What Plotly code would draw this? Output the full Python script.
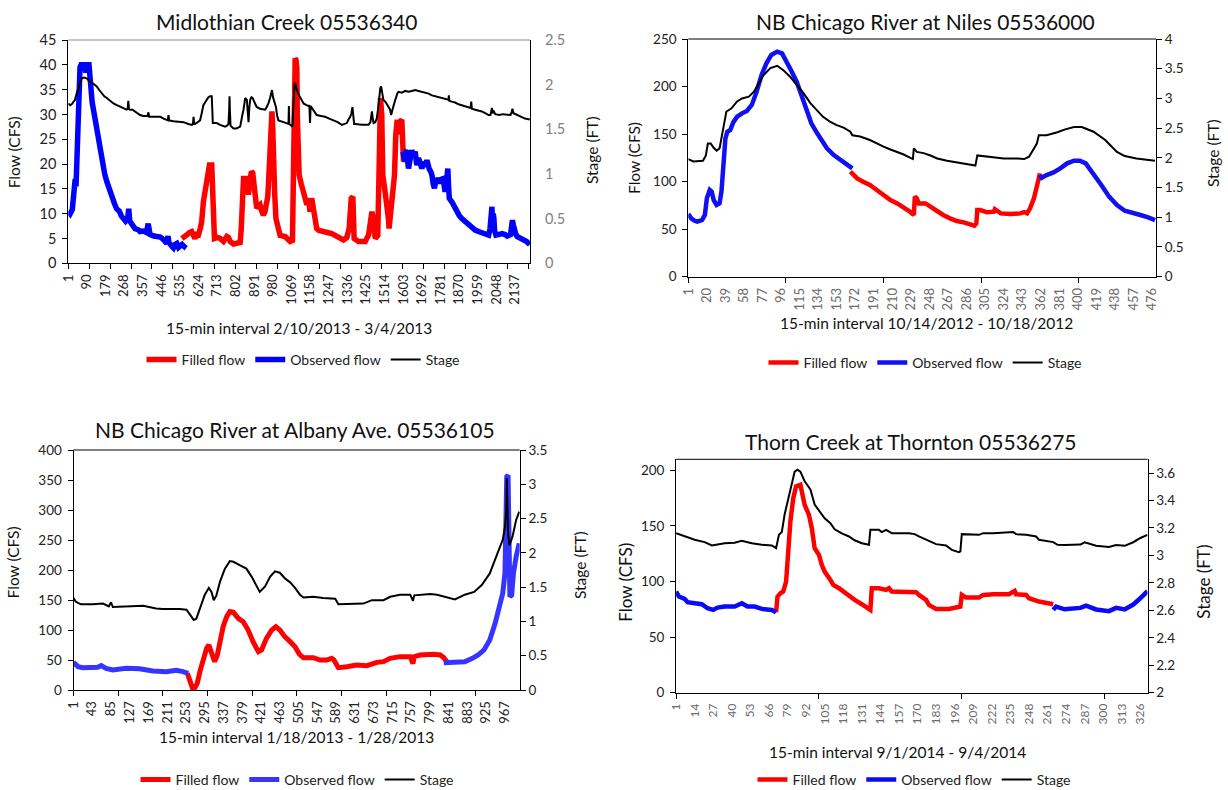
import plotly.graph_objects as go

W, H = 1228, 790
FONT = "Lato"

# ---------------- Midlothian Creek 05536340 (2/10/2013 - 3/4/2013) ----------------
mid_xticks = list(range(1, 2138, 89))
mid_obs1_idx = [1, 10, 20, 26, 30, 34, 38, 42, 47, 52, 57, 62, 75, 85, 92, 100, 106, 110, 115, 125,
                137, 150, 161, 175, 185, 200, 210, 222, 232, 245, 255, 264, 275, 285, 290, 295, 304,
                320, 335, 344, 360, 375, 383, 388, 392, 410, 430, 441, 455, 465, 472, 478, 482, 495,
                504, 512, 520, 528, 536, 545, 555, 562]
mid_obs1_cfs = [10.5, 10.0, 10.8, 13, 16.5, 17, 15.5, 23, 30, 36, 39.5, 40, 40, 38.5, 40, 40, 38, 35,
                32.5, 30, 26, 23, 20.5, 18, 16.5, 14.5, 13, 12, 11, 10.5, 9.5, 9, 8.5, 9, 11, 8.5, 7.8,
                7, 6.8, 6.4, 6.5, 6.2, 8, 6, 5.8, 5.5, 5.4, 5.3, 4.8, 4.2, 4, 5.5, 4.2, 3.5, 3.1, 3.8,
                4, 3.2, 3.5, 3.8, 3.4, 3.8]
mid_fill_idx = [544, 555, 567, 580, 591, 600, 607, 615, 623, 632, 639, 647, 655, 663, 670, 676, 687,
                692, 695, 698, 700, 715, 727, 743, 752, 759, 767, 775, 791, 810, 823, 828, 831, 835,
                839, 855, 860, 863, 867, 871, 877, 883, 889, 894, 898, 902, 910, 918, 926, 934, 942,
                950, 955, 958, 962, 966, 970, 975, 979, 982, 988, 994, 1003, 1010, 1014, 1038, 1062,
                1073, 1076, 1079, 1083, 1086, 1090, 1094, 1096, 1098, 1105, 1115, 1126, 1135, 1142,
                1150, 1157, 1165, 1171, 1178, 1189, 1200, 1213, 1240, 1261, 1280, 1293, 1305, 1317,
                1333, 1340, 1344, 1349, 1354, 1362, 1365, 1368, 1389, 1405, 1421, 1437, 1445, 1453,
                1457, 1461, 1469, 1481, 1485, 1488, 1491, 1494, 1500, 1505, 1516, 1522, 1529, 1532,
                1535, 1541, 1545, 1551, 1556, 1561, 1567, 1574, 1580, 1585, 1588, 1596, 1600, 1604,
                1608, 1612]
mid_fill_cfs = [5, 5.5, 5.7, 6.2, 6.4, 5.6, 5, 5.8, 5.7, 7, 8.4, 12.4, 15, 17.1, 19, 19.8, 19.8, 16,
                12.4, 7, 5, 5.2, 5, 4.4, 5, 5.4, 5.2, 4.4, 3.9, 4, 4.2, 7, 10.4, 14, 17.1, 17.1, 15,
                13.8, 16, 17.8, 18.5, 18.2, 16.5, 15, 13, 11.1, 11.5, 11.8, 10.5, 9.7, 10.5, 11.8,
                13.5, 15.8, 20, 25.9, 30, 30.6, 27, 19.1, 14, 9, 7, 5.7, 5.6, 5.4, 4.4, 4.6, 15,
                32.6, 39, 41.3, 41, 39.3, 30, 23.9, 17.8, 16, 14.4, 13, 11.8, 13.1, 10.4, 13.1, 11,
                9, 7, 6.6, 6.4, 6.2, 6, 5.6, 5.4, 5, 4.7, 5.2, 6, 7, 10, 13.1, 13.4, 9, 5, 4.4, 4.3,
                4.4, 5.7, 8, 10.4, 9.5, 8, 5, 5.6, 12, 22.5, 30, 33.3, 29.9, 17.8, 14.4, 12.5, 11.8,
                9, 7, 9, 11, 14.4, 15.5, 17.8, 25.9, 28.9, 26, 28, 28.6, 28.9, 25, 20.5, 22, 21]
mid_obs2_idx = [1601, 1606, 1612, 1616, 1620, 1624, 1628, 1636, 1644, 1652, 1660, 1664, 1668, 1676,
                1684, 1692, 1700, 1708, 1716, 1722, 1727, 1734, 1740, 1746, 1752, 1758, 1764, 1772,
                1780, 1788, 1795, 1799, 1803, 1809, 1816, 1819, 1823, 1835, 1847, 1859, 1871, 1883,
                1895, 1907, 1919, 1931, 1947, 1963, 1979, 1995, 2011, 2018, 2027, 2030, 2033, 2036,
                2040, 2046, 2059, 2075, 2090, 2100, 2116, 2121, 2125, 2129, 2133, 2140, 2147, 2160,
                2168, 2180, 2193, 2200, 2208]
mid_obs2_cfs = [22.5, 21, 20.5, 22.5, 22.8, 20.5, 19.1, 21, 22.8, 21.5, 22.5, 21, 19.8, 21.2, 20,
                19.1, 20.5, 19.5, 20.8, 19.5, 19, 18.5, 17.8, 16, 15.1, 16.5, 17.1, 16.5, 16.5, 17,
                17.1, 15.5, 14.4, 16, 19.1, 16, 13.1, 12.4, 11.3, 10.4, 9.6, 9, 8.5, 8.1, 7.5, 7,
                6.7, 6.4, 6.2, 6, 5.7, 7, 11.4, 7.5, 10, 9.2, 6.5, 5.7, 5.8, 6, 5.8, 5.5, 5.8, 7,
                8.7, 7.8, 6.7, 6, 5.4, 5.2, 5, 4.8, 4.4, 4.1, 3.8]
mid_stage_idx = [1, 10, 17, 25, 33, 41, 49, 57, 65, 77, 89, 97, 105, 121, 137, 149, 161, 173, 185,
                 200, 217, 233, 249, 265, 280, 285, 288, 291, 296, 308, 320, 332, 344, 360, 380,
                 384, 388, 410, 441, 457, 472, 477, 480, 484, 504, 530, 552, 575, 592, 597, 600,
                 603, 607, 620, 631, 639, 647, 655, 663, 671, 679, 687, 690, 692, 700, 711, 727,
                 740, 751, 760, 767, 770, 772, 774, 777, 791, 805, 823, 831, 835, 839, 847, 851,
                 855, 859, 863, 867, 871, 877, 883, 892, 902, 918, 934, 942, 950, 958, 966, 971,
                 975, 980, 990, 994, 1000, 1006, 1030, 1054, 1056, 1058, 1062, 1073, 1076, 1079,
                 1083, 1086, 1090, 1094, 1105, 1115, 1126, 1140, 1150, 1154, 1157, 1160, 1165,
                 1177, 1189, 1209, 1229, 1249, 1269, 1289, 1309, 1333, 1341, 1349, 1355, 1360,
                 1364, 1368, 1373, 1405, 1437, 1446, 1450, 1453, 1457, 1461, 1469, 1476, 1482,
                 1488, 1493, 1497, 1502, 1508, 1520, 1532, 1540, 1545, 1550, 1556, 1561, 1567,
                 1574, 1580, 1596, 1612, 1628, 1644, 1660, 1676, 1692, 1708, 1724, 1740, 1756,
                 1772, 1788, 1804, 1819, 1821, 1823, 1835, 1851, 1867, 1883, 1899, 1915, 1925,
                 1928, 1931, 1947, 1963, 1979, 1995, 2011, 2020, 2024, 2027, 2030, 2036, 2043,
                 2062, 2080, 2100, 2116, 2122, 2125, 2130, 2140, 2155, 2168, 2185, 2208]
mid_stage_ft = [1.79, 1.77, 1.78, 1.80, 1.83, 1.90, 1.96, 2.03, 2.07, 2.08, 2.07, 2.05, 2.03, 2.01,
                1.98, 1.94, 1.90, 1.87, 1.85, 1.82, 1.79, 1.77, 1.75, 1.73, 1.72, 1.73, 1.82, 1.73,
                1.72, 1.72, 1.70, 1.68, 1.66, 1.65, 1.65, 1.69, 1.64, 1.64, 1.64, 1.62, 1.60, 1.60,
                1.66, 1.60, 1.59, 1.58, 1.58, 1.56, 1.55, 1.56, 1.64, 1.56, 1.56, 1.58, 1.60, 1.68,
                1.77, 1.80, 1.83, 1.86, 1.87, 1.87, 1.70, 1.57, 1.57, 1.57, 1.55, 1.54, 1.53, 1.54,
                1.56, 1.70, 1.87, 1.70, 1.54, 1.51, 1.51, 1.53, 1.66, 1.68, 1.72, 1.85, 1.84, 1.83,
                1.70, 1.58, 1.75, 1.83, 1.86, 1.85, 1.80, 1.75, 1.73, 1.72, 1.72, 1.75, 1.79, 1.85,
                1.90, 1.94, 1.86, 1.77, 1.75, 1.65, 1.60, 1.58, 1.56, 1.76, 1.56, 1.55, 1.53, 1.70,
                1.92, 2.00, 2.02, 1.98, 1.94, 1.88, 1.84, 1.79, 1.77, 1.76, 1.77, 1.57, 1.76, 1.74,
                1.70, 1.66, 1.65, 1.64, 1.62, 1.60, 1.58, 1.55, 1.57, 1.61, 1.64, 1.68, 1.75, 1.65,
                1.56, 1.56, 1.55, 1.55, 1.58, 1.65, 1.70, 1.62, 1.57, 1.58, 1.62, 1.72, 1.88, 1.96,
                1.98, 1.90, 1.83, 1.80, 1.76, 1.72, 1.66, 1.72, 1.76, 1.80, 1.85, 1.90, 1.92, 1.91,
                1.93, 1.92, 1.93, 1.94, 1.93, 1.92, 1.91, 1.90, 1.88, 1.87, 1.86, 1.85, 1.84, 1.83,
                1.88, 1.82, 1.81, 1.80, 1.78, 1.77, 1.76, 1.75, 1.74, 1.81, 1.73, 1.72, 1.71, 1.70,
                1.68, 1.66, 1.66, 1.72, 1.74, 1.68, 1.70, 1.67, 1.66, 1.67, 1.66, 1.66, 1.70, 1.73,
                1.68, 1.67, 1.65, 1.64, 1.62, 1.61]

# ---------------- NB Chicago River at Niles 05536000 (10/14/2012 - 10/18/2012) ----------------
nil_xticks = list(range(1, 477, 19))
nil_obs1_idx = [1, 4, 7, 10, 15, 18, 20, 22, 23, 25, 27, 30, 33, 35, 37, 39, 41, 44, 47, 51, 56, 61,
                66, 71, 76, 81, 86, 92, 97, 102, 107, 112, 117, 122, 127, 133, 138, 143, 150, 157,
                163, 169]
nil_obs1_cfs = [65.9, 61.4, 59, 57.9, 59.6, 64.9, 82.4, 90, 91.2, 89.4, 80.6, 75.4, 77.1, 90, 124.5,
                145.5, 152.5, 154.3, 162.3, 168.3, 171.8, 174.3, 180.6, 194.6, 212.1, 224.4, 233.2,
                236.7, 234.9, 226.2, 215.6, 205.1, 189.3, 175.3, 161.3, 150.8, 142, 135, 128, 122.7,
                118.2, 114]
nil_fill_idx = [167, 174, 180, 187, 194, 201, 208, 215, 221, 228, 232, 233, 235, 237, 244, 249, 256,
                262, 269, 276, 283, 290, 294, 296, 297, 300, 307, 314, 315, 321, 331, 341, 345, 348,
                351, 355, 358, 360, 361]
nil_fill_cfs = [110.4, 103.4, 99.9, 96.4, 91.2, 85.9, 80.6, 77.1, 73.6, 68.4, 64.9, 84.2, 82.4, 77.1,
                77.1, 73.6, 70.1, 64.9, 61.4, 58.6, 57.2, 55, 53.6, 56, 70.1, 70.1, 67.7, 68.4, 71,
                66.6, 65.9, 66.6, 68, 66.6, 71.9, 82.4, 92.9, 103.4, 108.7]
nil_obs2_idx = [361, 363, 368, 375, 382, 389, 396, 402, 408, 416, 424, 432, 440, 448, 456, 464, 472,
                479]
nil_obs2_cfs = [106.9, 104.1, 106.9, 109.7, 114, 119.2, 122, 122, 119.2, 108.7, 96.4, 84.2, 75.4, 69.4,
                66.6, 64.9, 62.4, 59.6]
nil_stage_idx = [1, 6, 16, 19, 21, 24, 27, 30, 33, 35, 38, 40, 45, 51, 56, 63, 68, 73, 78, 85, 92, 98,
                 105, 112, 119, 126, 133, 139, 146, 153, 160, 167, 169, 177, 187, 194, 201, 208, 215,
                 221, 231, 232, 235, 242, 249, 256, 266, 276, 283, 293, 295, 297, 307, 317, 324, 338,
                 345, 350, 355, 358, 360, 368, 379, 387, 396, 404, 416, 428, 440, 448, 460, 472, 479]
nil_stage_ft = [1.98, 1.94, 1.95, 2.04, 2.24, 2.24, 2.17, 2.12, 2.16, 2.33, 2.61, 2.78, 2.83, 2.95,
                3.00, 3.03, 3.11, 3.25, 3.39, 3.51, 3.55, 3.48, 3.37, 3.23, 3.09, 2.92, 2.79, 2.69,
                2.61, 2.55, 2.51, 2.44, 2.38, 2.36, 2.30, 2.24, 2.19, 2.14, 2.10, 2.06, 1.98, 2.16,
                2.10, 2.08, 2.04, 1.99, 1.95, 1.92, 1.91, 1.88, 1.87, 2.04, 2.02, 2.01, 1.99, 1.99,
                1.98, 2.02, 2.16, 2.24, 2.38, 2.38, 2.43, 2.48, 2.52, 2.52, 2.44, 2.30, 2.10, 2.03,
                1.99, 1.96, 1.95]

# ---------------- NB Chicago River at Albany Ave. 05536105 (1/18/2013 - 1/28/2013) ----------------
alb_xticks = list(range(1, 968, 42))
alb_obs1_idx = [1, 11, 22, 44, 55, 63, 74, 89, 104, 119, 149, 179, 209, 231, 246, 258]
alb_obs1_cfs = [46.1, 38.9, 37.2, 37.2, 38, 40.6, 36.1, 33.3, 35, 36.1, 35.5, 31.7, 30.6, 32.8, 30.6,
                27.8]
alb_fill_idx = [256, 261, 267, 272, 278, 284, 291, 299, 304, 310, 317, 323, 329, 336, 344, 351, 359,
                370, 381, 392, 403, 415, 422, 433, 445, 454, 463, 474, 486, 497, 507, 516, 538, 553,
                568, 579, 584, 594, 613, 635, 658, 669, 680, 695, 710, 732, 755, 761, 764, 777, 792,
                807, 822, 830, 837]
alb_fill_cfs = [27.8, 16.7, 3.9, 2.8, 11.1, 30.6, 52.8, 69.4, 75, 63.9, 47.2, 58.3, 80.6, 105.6,
                122.2, 130.6, 129.4, 119.4, 113.9, 100, 80.6, 63.9, 66.7, 86.1, 100, 105.6, 100,
                88.9, 80.6, 72.2, 59.4, 53.9, 53.9, 50, 50, 52.8, 50, 37.2, 38.9, 41.7, 40.6, 44.4,
                46.1, 47.2, 52.8, 55.6, 55.6, 44, 55.6, 58.3, 59.4, 59.4, 58.3, 53.9, 47.2]
alb_obs2_idx = [830, 864, 877, 894, 907, 920, 933, 945, 954, 962, 967, 971, 974, 975, 978, 982, 986,
                992, 999]
alb_obs2_cfs = [45.6, 45.6, 47, 52.8, 58.3, 66.7, 83.3, 111.1, 138.9, 161.1, 194.4, 355.6, 358, 233,
                155.6, 158, 194.4, 222.2, 244.4]
alb_stage_idx = [1, 6, 11, 18, 44, 67, 80, 85, 89, 119, 157, 186, 201, 239, 254, 265, 270, 276, 284,
                 295, 304, 310, 315, 321, 329, 340, 351, 359, 373, 388, 400, 411, 418, 430, 441, 452,
                 463, 474, 486, 497, 508, 516, 538, 560, 587, 594, 613, 628, 650, 669, 695, 710, 732,
                 755, 761, 764, 777, 800, 815, 830, 845, 855, 877, 898, 915, 933, 950, 962, 967, 970,
                 971, 973, 974, 977, 984, 992, 999]
alb_stage_ft = [1.34, 1.29, 1.27, 1.25, 1.25, 1.26, 1.22, 1.28, 1.21, 1.22, 1.23, 1.19, 1.18, 1.18,
                1.17, 1.07, 1.02, 1.04, 1.19, 1.39, 1.49, 1.43, 1.31, 1.38, 1.58, 1.77, 1.88, 1.87,
                1.82, 1.77, 1.65, 1.51, 1.43, 1.51, 1.65, 1.73, 1.71, 1.63, 1.57, 1.49, 1.39, 1.35,
                1.36, 1.34, 1.33, 1.25, 1.25, 1.26, 1.26, 1.31, 1.31, 1.36, 1.39, 1.39, 1.30, 1.38,
                1.39, 1.40, 1.39, 1.36, 1.33, 1.32, 1.39, 1.43, 1.53, 1.70, 1.99, 2.19, 2.38, 2.60,
                3.09, 2.50, 2.28, 2.11, 2.24, 2.48, 2.60]

# ---------------- Thorn Creek at Thornton 05536275 (9/1/2014 - 9/4/2014) ----------------
thn_xticks = list(range(1, 327, 13))
thn_obs1_idx = [1, 3, 7, 9, 14, 19, 23, 27, 30, 35, 42, 47, 51, 56, 61, 65, 68, 71]
thn_obs1_cfs = [91, 86.5, 84.4, 81.4, 80.5, 79.6, 76, 74.5, 76.6, 77.5, 77.5, 80.5, 77.5, 77.5, 75.4,
                75.4, 74.5, 72.4]
thn_fill_idx = [71, 72, 74, 76, 78, 79, 81, 83, 85, 88, 89, 91, 94, 96, 98, 101, 103, 105, 109, 111,
                115, 118, 122, 126, 131, 135, 137, 138, 143, 148, 150, 152, 162, 169, 171, 176, 178,
                183, 192, 198, 200, 201, 204, 213, 216, 223, 234, 238, 239, 246, 248, 255, 260, 265]
thn_fill_cfs = [72.4, 86.5, 89.5, 91, 100, 124, 154, 175, 185.6, 187, 181, 169, 160, 148, 130, 124,
                115, 109, 101.5, 97, 94, 91, 88, 83.5, 79.6, 76, 74.5, 94, 94, 92.5, 94, 91, 90.4,
                90.4, 88, 83.5, 79, 75.4, 75.4, 77.5, 77.5, 88, 85.6, 85.6, 88, 88.6, 88.6, 91.6,
                88.6, 88, 85, 82, 80.5, 79.6]
thn_obs2_idx = [265, 267, 273, 284, 288, 295, 304, 309, 315, 321, 325, 328, 331]
thn_obs2_cfs = [74.5, 77.5, 75, 76.3, 78.4, 74.9, 73.4, 76.3, 74.9, 79.3, 83.8, 88.3, 91.3]
thn_stage_idx = [1, 7, 14, 21, 26, 30, 35, 42, 47, 54, 61, 68, 71, 73, 75, 77, 81, 84, 86, 88, 91, 95,
                 98, 102, 105, 109, 112, 117, 122, 126, 131, 136, 137, 143, 145, 148, 152, 164, 168,
                 171, 176, 183, 190, 194, 199, 200, 201, 213, 216, 223, 237, 239, 246, 253, 255, 265,
                 268, 273, 284, 287, 295, 304, 309, 315, 321, 326, 331]
thn_stage_ft = [3.162, 3.138, 3.114, 3.097, 3.072, 3.080, 3.089, 3.092, 3.106, 3.089, 3.077, 3.072,
                3.053, 3.150, 3.170, 3.300, 3.490, 3.610, 3.624, 3.610, 3.540, 3.480, 3.370, 3.310,
                3.270, 3.235, 3.190, 3.160, 3.138, 3.110, 3.089, 3.077, 3.186, 3.186, 3.170, 3.186,
                3.162, 3.162, 3.155, 3.138, 3.114, 3.082, 3.072, 3.040, 3.024, 3.030, 3.155, 3.150,
                3.162, 3.162, 3.170, 3.155, 3.150, 3.138, 3.114, 3.097, 3.077, 3.075, 3.079, 3.095,
                3.070, 3.062, 3.075, 3.070, 3.096, 3.127, 3.150]


def joined(*segments):
    """Concatenate (x, y) segments, separated by gaps."""
    xs, ys = [], []
    for i, (sx, sy) in enumerate(segments):
        if i:
            xs.append(None)
            ys.append(None)
        xs += list(sx)
        ys += list(sy)
    return xs, ys


def xdom(a, b):
    return [a / W, b / W]


def ydom(top, bottom):
    return [1 - bottom / H, 1 - top / H]


panels = [
    dict(n=1, xd=xdom(68.3, 530), yd=ydom(40, 263.3), xr=[1, 2209], ticks=mid_xticks,
         minor=list(range(1, 2209, 100)), fr=[0, 45], fdt=5, sr=[0, 2.5], sdt=0.5, s0=0,
         fill=(mid_fill_idx, mid_fill_cfs),
         obs=[(mid_obs1_idx, mid_obs1_cfs), (mid_obs2_idx, mid_obs2_cfs)],
         stage=(mid_stage_idx, mid_stage_ft), blue="#0000FF", fw=5.5, yfs=14.5, xfs=13,
         xcol="#222222", rcol="#7F7F7F", rticks=False, topcol="#8C8C8C",
         legend=(303, 360)),
    dict(n=2, xd=xdom(688.3, 1156), yd=ydom(39, 276.7), xr=[1, 480], ticks=nil_xticks,
         minor=list(range(1, 480, 100)), fr=[0, 250], fdt=50, sr=[0, 4], sdt=0.5, s0=0,
         fill=(nil_fill_idx, nil_fill_cfs),
         obs=[(nil_obs1_idx, nil_obs1_cfs), (nil_obs2_idx, nil_obs2_cfs)],
         stage=(nil_stage_idx, nil_stage_ft), blue="#1010F0", fw=4.5, yfs=13.5, xfs=13,
         xcol="#6B6B6B", rcol="#222222", rticks=True, topcol="#000000",
         legend=(925, 363)),
    dict(n=3, xd=xdom(73.5, 519.7), yd=ydom(450, 690), xr=[1, 1000], ticks=alb_xticks,
         minor=list(range(1, 1000, 100)), fr=[0, 400], fdt=50, sr=[0, 3.5], sdt=0.5, s0=0,
         fill=(alb_fill_idx, alb_fill_cfs),
         obs=[(alb_obs1_idx, alb_obs1_cfs), (alb_obs2_idx, alb_obs2_cfs)],
         stage=(alb_stage_idx, alb_stage_ft), blue="#3535FF", fw=5, yfs=13.5, xfs=13,
         xcol="#222222", rcol="#222222", rticks=True, topcol="#000000",
         legend=(297, 780)),
    dict(n=4, xd=xdom(676.1, 1147.5), yd=ydom(459.3, 692.7), xr=[1, 331], ticks=thn_xticks,
         minor=list(range(1, 331, 100)), fr=[0, 210], fdt=50, sr=[2, 3.7], sdt=0.2, s0=2,
         fill=(thn_fill_idx, thn_fill_cfs),
         obs=[(thn_obs1_idx, thn_obs1_cfs), (thn_obs2_idx, thn_obs2_cfs)],
         stage=(thn_stage_idx, thn_stage_ft), blue="#0A0AF5", fw=4.5, yfs=13.5, xfs=12,
         xcol="#6B6B6B", rcol="#222222", rticks=True, topcol="#000000",
         legend=(914, 780)),
]

fig = go.Figure()
layout = dict(
    width=W, height=H, margin=dict(l=0, r=0, t=0, b=0, autoexpand=False),
    paper_bgcolor="white", plot_bgcolor="white",
    font=dict(family=FONT, color="#222222"),
    showlegend=True,
)
shapes = []

for p in panels:
    n = p["n"]
    xname = "x" if n == 1 else f"x{n}"
    yl = 2 * n - 1
    yr = 2 * n
    ylname = "y" if yl == 1 else f"y{yl}"
    yrname = f"y{yr}"
    leg = "legend" if n == 1 else f"legend{n}"

    fx, fy = p["fill"]
    fig.add_trace(go.Scatter(x=fx, y=fy, mode="lines", name="Filled flow",
                             line=dict(color="#FF0000", width=p["fw"]),
                             xaxis=xname, yaxis=ylname, legend=leg))
    ox, oy = joined(*p["obs"])
    fig.add_trace(go.Scatter(x=ox, y=oy, mode="lines", name="Observed flow",
                             line=dict(color=p["blue"], width=p["fw"]),
                             xaxis=xname, yaxis=ylname, legend=leg))
    sx, sy = p["stage"]
    fig.add_trace(go.Scatter(x=sx, y=sy, mode="lines", name="Stage",
                             line=dict(color="#000000", width=2),
                             xaxis=xname, yaxis=yrname, legend=leg))

    xkey = "xaxis" if n == 1 else f"xaxis{n}"
    ylkey = "yaxis" if yl == 1 else f"yaxis{yl}"
    yrkey = f"yaxis{yr}"

    layout[xkey] = dict(
        domain=p["xd"], anchor=ylname, range=p["xr"],
        tickmode="array", tickvals=p["ticks"], ticktext=[str(t) for t in p["ticks"]],
        tickangle=-90, ticks="outside", ticklen=5, tickcolor="rgba(0,0,0,0)",
        tickfont=dict(size=p["xfs"], color=p["xcol"], family=FONT),
        minor=dict(tickmode="array", tickvals=p["minor"], ticks="outside", ticklen=5,
                   tickcolor="#000000", showgrid=False),
        showline=True, linecolor="#000000", linewidth=1,
        showgrid=False, zeroline=False,
    )
    # top edge of the plot frame
    shapes.append(dict(type="line", xref="paper", yref="paper",
                       x0=p["xd"][0], x1=p["xd"][1], y0=p["yd"][1], y1=p["yd"][1],
                       line=dict(color=p["topcol"], width=1)))
    layout[ylkey] = dict(
        domain=p["yd"], anchor=xname, range=p["fr"], tick0=0, dtick=p["fdt"],
        ticks="outside", ticklen=5, tickcolor="#000000", ticklabelstandoff=3,
        tickfont=dict(size=p["yfs"], color="#222222", family=FONT),
        showline=True, linecolor="#000000", linewidth=1,
        showgrid=False, zeroline=False,
    )
    layout[yrkey] = dict(
        overlaying=ylname, side="right", anchor=xname, range=p["sr"], tick0=p["s0"],
        dtick=p["sdt"], ticks="outside", ticklen=5 if p["rticks"] else 11,
        tickcolor="#000000" if p["rticks"] else "rgba(0,0,0,0)",
        tickfont=dict(size=p["yfs"], color=p["rcol"], family=FONT),
        showline=True, linecolor="#000000", linewidth=1,
        showgrid=False, zeroline=False,
    )
    lx, ly = p["legend"]
    layout[leg] = dict(
        orientation="h", x=lx / W, y=1 - ly / H, xanchor="center", yanchor="middle",
        font=dict(size=14, family=FONT, color="#222222"), bgcolor="rgba(0,0,0,0)",
        itemwidth=30, traceorder="normal",
    )

layout["shapes"] = shapes
fig.update_layout(**layout)

# Panel titles, axis titles
texts = [
    ("Midlothian Creek 05536340", 286.6, 21, 21, 0),
    ("NB Chicago River at Niles 05536000", 925.7, 21, 21, 0),
    ("NB Chicago River at Albany Ave. 05536105", 294.7, 429, 21, 0),
    ("Thorn Creek at Thornton 05536275", 911.4, 441, 21, 0),
    ("15-min interval 2/10/2013 - 3/4/2013", 298.8, 328, 15.5, 0),
    ("15-min interval 10/14/2012 - 10/18/2012", 926.3, 323, 15.5, 0),
    ("15-min interval 1/18/2013 - 1/28/2013", 296, 737, 15.5, 0),
    ("15-min interval 9/1/2014 - 9/4/2014", 897.4, 752, 15.5, 0),
    ("Flow (CFS)", 14.3, 152, 15.5, -90),
    ("Stage (FT)", 592, 150, 15.5, -90),
    ("Flow (CFS)", 634, 158, 15.5, -90),
    ("Stage (FT)", 1213, 153, 15.5, -90),
    ("Flow (CFS)", 13.4, 562, 15.5, -90),
    ("Stage (FT)", 580, 565, 15.5, -90),
    ("Flow (CFS)", 624.8, 582, 17, -90),
    ("Stage (FT)", 1202.7, 582, 17, -90),
]
for txt, x, y, size, ang in texts:
    fig.add_annotation(text=txt, x=x / W, y=1 - y / H, xref="paper", yref="paper",
                       xanchor="center", yanchor="middle", showarrow=False, textangle=ang,
                       font=dict(size=size, family=FONT, color="#111111"))

fig.write_html("out.html")
